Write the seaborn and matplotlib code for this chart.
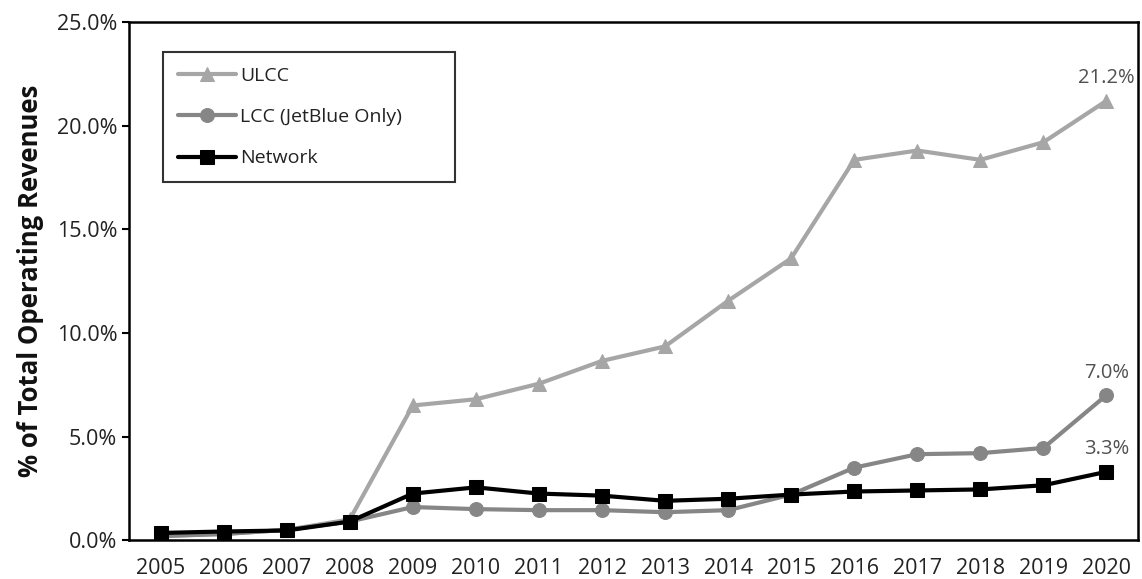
import matplotlib
matplotlib.use("Agg")
import matplotlib.pyplot as plt
from matplotlib.ticker import FixedLocator, PercentFormatter
import seaborn as sns
import pandas as pd

years = [str(y) for y in range(2005, 2021)]
ulcc = [0.2, 0.3, 0.5, 1.0, 6.5, 6.8, 7.55, 8.65, 9.35, 11.55, 13.6, 18.35, 18.8, 18.35, 19.2, 21.2]
lcc = [0.2, 0.3, 0.5, 0.9, 1.6, 1.5, 1.45, 1.45, 1.35, 1.45, 2.2, 3.5, 4.15, 4.2, 4.45, 7.0]
network = [0.35, 0.42, 0.47, 0.9, 2.25, 2.55, 2.25, 2.15, 1.9, 2.0, 2.2, 2.35, 2.4, 2.45, 2.65, 3.3]

series = ["ULCC", "LCC (JetBlue Only)", "Network"]
colors = ["#a6a6a6", "#868686", "#000000"]
markers = ["^", "o", "s"]

df = pd.DataFrame({
    "pos": list(range(len(years))) * 3,
    "value": ulcc + lcc + network,
    "series": [s for s in series for _ in years],
})

sns.set_style("white")
plt.rcParams["font.family"] = ["Open Sans", "DejaVu Sans"]

fig = plt.figure(figsize=(11.42, 5.79), dpi=100)
ax = fig.add_axes([0.113, 0.067, 0.8835, 0.895])

for name, col, mk in zip(series, colors, markers):
    sub = df[df["series"] == name]
    sns.lineplot(data=sub, x="pos", y="value", ax=ax, color=col, marker=mk,
                 markersize=10, markeredgecolor=col, linewidth=3, label=name)

# value labels at the last year
for vals in [ulcc, lcc, network]:
    ax.annotate(f"{vals[-1]:.1f}%", (len(years) - 1, vals[-1]), xytext=(0, 9),
                textcoords="offset points", ha="center", va="bottom",
                fontsize=14.5, color="#505050")

ax.set_xlim(-0.5, len(years) - 0.5)
ax.set_ylim(0, 25)
ax.set_xticks(range(len(years)))
ax.set_xticklabels(years)
ax.xaxis.set_minor_locator(FixedLocator([i + 0.5 for i in range(-1, len(years))]))
ax.tick_params(axis="x", which="major", length=0, labelsize=15.5, pad=13, labelcolor="#222222")
ax.tick_params(axis="x", which="minor", length=7, width=1.5, color="black", direction="out")
ax.set_yticks([0, 5, 10, 15, 20, 25])
ax.yaxis.set_major_formatter(PercentFormatter(decimals=1))
ax.tick_params(axis="y", which="major", length=5, width=1.5, color="black",
               labelsize=15.5, labelcolor="#222222", left=True)
ax.set_xlabel("")
ax.set_ylabel("% of Total Operating Revenues", fontsize=18.5, fontweight="bold",
              labelpad=9, color="#111111")

for sp in ax.spines.values():
    sp.set_color("black")
    sp.set_linewidth(1.8)

leg = ax.legend(loc="upper left", bbox_to_anchor=(0.034, 0.689, 0.289, 0.253),
                mode="expand", borderaxespad=0, fontsize=14, labelspacing=1.2,
                handlelength=3.0, handletextpad=0.2, borderpad=0.75,
                fancybox=False, frameon=True)
leg.get_frame().set_edgecolor("black")
leg.get_frame().set_linewidth(1.5)
for t in leg.get_texts():
    t.set_color("#222222")

fig.savefig("out.png", dpi=100)
